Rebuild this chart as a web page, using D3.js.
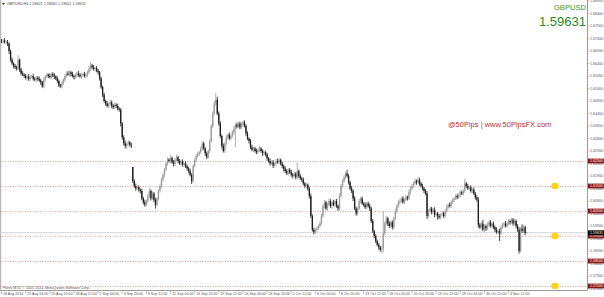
<!DOCTYPE html>
<html>
<head>
<meta charset="utf-8">
<script src="https://cdn.jsdelivr.net/npm/d3@7"></script>
<style>
body { margin: 0; background: #fff; }
svg { display: block; font-family: "Liberation Sans", Arial, sans-serif; }
</style>
</head>
<body>
<script>
const width = 604;
const height = 297;
const plotRight = 587;
const plotBottom = 290;

// GBPUSD H4 from 18 Aug 2014 12:00, closes in pips above 1.5000
const closes = [
  1728,1732,1725,1727,1720,1690,1655,1640,1630,1625,
  1620,1655,1615,1600,1595,1590,1582,1588,1578,1585,
  1590,1580,1575,1583,1578,1572,1565,1548,1575,1588,
  1595,1590,1585,1598,1592,1588,1580,1570,1552,1548,
  1560,1575,1590,1600,1595,1605,1598,1590,1585,1592,
  1600,1595,1588,1593,1598,1590,1595,1605,1620,1632,
  1625,1618,1622,1612,1605,1580,1545,1515,1490,1480,
  1470,1478,1485,1472,1465,1475,1470,1460,1455,1400,
  1345,1320,1310,1318,1325,1315,1312,1170,1150,1140,
  1145,1135,1130,1100,1085,1075,1090,1110,1130,1100,
  1120,1095,1075,1100,1130,1150,1175,1195,1215,1240,
  1255,1250,1262,1245,1238,1255,1265,1250,1240,1248,
  1235,1240,1228,1220,1210,1195,1170,1230,1255,1270,
  1278,1285,1300,1320,1300,1280,1265,1290,1330,1390,
  1440,1480,1495,1440,1400,1350,1310,1290,1320,1345,
  1355,1340,1350,1365,1380,1395,1388,1400,1385,1395,
  1405,1390,1360,1340,1330,1305,1295,1300,1290,1285,
  1295,1300,1290,1280,1285,1275,1260,1250,1240,1245,
  1232,1240,1250,1245,1255,1240,1230,1220,1210,1200,
  1215,1205,1195,1190,1200,1185,1210,1190,1180,1175,
  1160,1150,1155,1140,1110,1030,975,965,975,980,
  990,1000,1030,1070,1085,1060,1075,1090,1070,1085,
  1075,1090,1070,1060,1110,1150,1170,1185,1200,1190,
  1165,1140,1130,1100,1060,1040,1060,1090,1100,1080,
  1075,1065,1080,1070,1060,1010,970,950,930,915,
  905,895,900,960,1000,1020,1000,990,1005,985,
  1020,1050,1070,1085,1090,1100,1085,1095,1105,1100,
  1125,1140,1150,1160,1170,1165,1175,1160,1150,1140,
  1130,1120,1030,1050,1060,1045,1055,1035,1040,1030,
  1025,1035,1040,1030,1050,1065,1075,1070,1085,1095,
  1100,1110,1105,1115,1125,1120,1130,1160,1150,1140,
  1145,1130,1135,1120,1105,1095,995,985,1000,975,
  990,980,995,1005,990,1000,985,975,965,970,
  960,985,995,1000,990,1000,1010,1005,1015,1000,
  1010,990,975,890,980,970,985,962.1,963.1
];

// wick lengths in pips above / below the body
const wickUp = [
  8,6,10,5,7,4,6,9,5,8, 6,19,5,7,9,6,8,5,10,7, 6,9,5,8,6,10,7,5,9,6,
  8,5,10,6,7,9,5,8,6,7, 9,6,8,5,10,7,6,9,5,8, 7,10,6,8,5,9,7,6,10,13,
  7,9,5,8,6,5,7,6,8,5, 9,6,10,7,5,8,6,9,5,7, 6,8,12,7,9,5,8,0,7,10,
  6,8,5,9,7,10,6,8,12,7, 9,6,8,5,7,6,9,5,8,6, 10,7,12,6,9,8,10,6,8,7,
  9,5,8,6,7,9,6,8,5,7, 9,6,8,10,7,5,8,6,9,7, 8,10,27,12,8,9,6,10,7,8,
  6,9,7,8,10,6,9,7,8,10, 6,8,7,9,5,8,10,6,7,9, 8,10,6,7,9,5,8,6,10,7,
  9,6,8,10,7,5,8,6,9,7, 8,6,10,7,9,5,36,6,8,7, 9,6,8,5,7,10,6,8,7,9,
  6,8,10,7,9,6,8,10,7,6, 9,7,8,6,10,8,7,9,6,15, 8,6,10,7,9,8,6,10,7,8,
  6,9,7,8,10,6,8,5,7,6, 8,6,10,90,8,10,7,9,6,8, 7,9,6,8,10,7,9,6,8,7,
  9,6,8,7,10,6,10,8,7,9, 6,8,10,7,9,6,8,10,7,6, 8,6,9,7,8,10,6,9,7,8,
  6,9,7,8,10,6,8,20,7,9, 6,8,7,10,6,8,10,7,9,15, 8,6,10,7,9,6,8,7,10,6,
  9,7,8,6,10,7,9,6,8,7, 9,6,8,10,7,17,9,6,3
];
const wickDn = [
  6,9,5,8,10,12,8,6,9,7, 8,6,9,7,5,8,6,10,7,9, 5,8,6,9,7,6,10,5,7,9,
  6,8,5,9,7,10,6,8,7,5, 8,6,9,7,5,8,10,6,9,7, 6,8,5,9,7,6,10,8,7,9,
  8,6,9,7,10,8,6,9,7,8, 6,9,7,10,8,6,9,7,8,12, 10,7,9,12,6,8,10,8,7,9,
  6,8,10,7,9,8,6,9,7,8, 6,9,15,7,8,6,9,7,10,6, 8,7,9,6,10,8,7,9,6,8,
  7,9,6,8,10,7,12,8,6,9, 7,8,6,9,7,10,8,6,9,7, 8,6,10,7,9,8,10,6,8,7,
  9,6,8,7,10,74,8,6,9,7, 8,6,9,7,10,8,6,9,7,8, 6,9,7,10,8,6,9,7,8,6,
  10,7,9,6,8,7,10,12,8,6, 9,7,8,10,6,9,7,8,6,9, 7,8,6,9,10,8,7,9,6,8,
  7,9,6,8,10,7,9,6,8,12, 6,9,7,10,8,6,9,7,8,6, 9,7,8,10,6,9,8,7,10,6,
  8,7,9,6,10,8,7,9,8,6, 10,8,13,15,9,7,10,8,6,9, 8,6,9,7,10,8,6,9,7,8,
  6,9,7,8,6,10,7,9,6,8, 9,7,12,8,6,9,7,10,8,15, 7,9,6,8,10,7,9,6,8,7,
  9,6,8,7,10,6,8,7,9,6, 8,7,10,6,9,8,12,7,9,6, 8,10,7,9,6,8,7,9,6,6,
  30,8,7,9,6,8,7,10,6,9, 7,9,8,10,6,8,7,9,0
];
const firstOpen = 1730;
const gapOpens = { 87: 1226 }; // Monday 8 Sep opens below Friday close

const timeLabels = [
  '18 Aug 2014', '21 Aug 04:00', '25 Aug 20:00', '28 Aug 12:00', '2 Sep 04:00',
  '4 Sep 20:00', '9 Sep 12:00', '12 Sep 04:00', '16 Sep 20:00', '19 Sep 12:00',
  '24 Sep 04:00', '26 Sep 20:00', '1 Oct 12:00', '6 Oct 04:00', '8 Oct 20:00',
  '13 Oct 12:00', '16 Oct 04:00', '20 Oct 20:00', '23 Oct 12:00', '28 Oct 04:00',
  '30 Oct 20:00', '4 Nov 12:00'
];
const barsPerLabel = 16;

const priceTicks = [
  1.6890, 1.6840, 1.6790, 1.6740, 1.6690, 1.6640, 1.6590, 1.6540,
  1.6490, 1.6440, 1.6390, 1.6340, 1.6290, 1.6240, 1.6190, 1.6140,
  1.6090, 1.6040, 1.5990, 1.5940, 1.5890, 1.5840, 1.5790, 1.5740
];
const levels = [1.6250, 1.6150, 1.6050, 1.5950, 1.5850, 1.5750];
const markedLevels = [1.6150, 1.5950, 1.5750];
const lastPrice = 1.59631;
const header = 'GBPUSD,H4  1.59621 1.59661 1.59621 1.59631';

const candles = closes.map((c, i) => {
  const o = i === 0 ? firstOpen : (gapOpens[i] !== undefined ? gapOpens[i] : closes[i - 1]);
  return {
    i: i,
    open: 1.5 + o / 10000,
    close: 1.5 + c / 10000,
    high: 1.5 + (Math.max(o, c) + wickUp[i]) / 10000,
    low: 1.5 + (Math.min(o, c) - wickDn[i]) / 10000
  };
});

const x = d3.scaleLinear().domain([-1, 388]).range([0, plotRight]);
const y = d3.scaleLinear().domain([1.5734, 1.6894]).range([plotBottom, 0]);

const svg = d3.select('body').append('svg')
  .attr('width', width)
  .attr('height', height);

svg.append('rect')
  .attr('width', width)
  .attr('height', height)
  .attr('fill', '#fff');

// left frame edge
svg.append('line')
  .attr('x1', 0.5).attr('x2', 0.5)
  .attr('y1', 0).attr('y2', plotBottom)
  .attr('stroke', '#b8b8b8')
  .attr('stroke-width', 1.5);

// dotted levels
svg.selectAll('.level')
  .data(levels)
  .enter()
  .append('line')
  .attr('class', 'level')
  .attr('x1', 0).attr('x2', plotRight)
  .attr('y1', d => Math.round(y(d)) + 0.5)
  .attr('y2', d => Math.round(y(d)) + 0.5)
  .attr('stroke', '#d27474')
  .attr('stroke-width', 0.7)
  .attr('stroke-dasharray', '1,1.5');

// bid line
svg.append('line')
  .attr('x1', 0).attr('x2', plotRight)
  .attr('y1', y(lastPrice)).attr('y2', y(lastPrice))
  .attr('stroke', '#d4d4d4')
  .attr('stroke-width', 1);

const g = svg.append('g');
const colour = d => d.close >= d.open ? '#9a9a9a' : '#1c1c1c';

g.selectAll('.wick')
  .data(candles)
  .enter()
  .append('line')
  .attr('class', 'wick')
  .attr('x1', d => x(d.i)).attr('x2', d => x(d.i))
  .attr('y1', d => y(d.high)).attr('y2', d => y(d.low))
  .attr('stroke', colour)
  .attr('stroke-width', 0.8);

g.selectAll('.body')
  .data(candles)
  .enter()
  .append('rect')
  .attr('class', 'body')
  .attr('x', d => x(d.i) - 0.65)
  .attr('width', 1.3)
  .attr('y', d => y(Math.max(d.open, d.close)))
  .attr('height', d => Math.max(0.6, Math.abs(y(d.open) - y(d.close))))
  .attr('fill', colour);

// yellow markers
svg.selectAll('.dot')
  .data(markedLevels)
  .enter()
  .append('ellipse')
  .attr('cx', 555)
  .attr('cy', d => y(d))
  .attr('rx', 3.8)
  .attr('ry', 3.2)
  .attr('fill', '#ffd21a');

// price axis
svg.append('line')
  .attr('x1', plotRight + 0.5).attr('x2', plotRight + 0.5)
  .attr('y1', 0).attr('y2', plotBottom)
  .attr('stroke', '#9a9a9a');

svg.selectAll('.ptick')
  .data(priceTicks)
  .enter()
  .append('line')
  .attr('x1', plotRight).attr('x2', plotRight + 2.5)
  .attr('y1', d => y(d)).attr('y2', d => y(d))
  .attr('stroke', '#9a9a9a')
  .attr('stroke-width', 0.6);

svg.selectAll('.plabel')
  .data(priceTicks)
  .enter()
  .append('text')
  .attr('x', plotRight + 3)
  .attr('y', d => y(d) + 1.3)
  .attr('font-size', 3.6)
  .attr('fill', '#555')
  .text(d => d.toFixed(5));

const boxes = svg.selectAll('.lbox')
  .data(levels.map(v => ({ v: v, bg: '#8e1515' })).concat([{ v: lastPrice, bg: '#000' }]))
  .enter()
  .append('g')
  .attr('transform', d => `translate(${plotRight + 1},${y(d.v)})`);

boxes.append('rect')
  .attr('x', 0).attr('y', -2.4)
  .attr('width', width - plotRight - 1)
  .attr('height', 4.8)
  .attr('fill', d => d.bg);

boxes.append('text')
  .attr('x', 2)
  .attr('y', 1.3)
  .attr('font-size', 3.6)
  .attr('fill', '#fff')
  .text(d => d.v.toFixed(5));

// time axis
svg.append('line')
  .attr('x1', 0).attr('x2', plotRight + 0.5)
  .attr('y1', plotBottom + 0.5).attr('y2', plotBottom + 0.5)
  .attr('stroke', '#9a9a9a');

const tlabels = svg.selectAll('.tlabel')
  .data(timeLabels)
  .enter()
  .append('g')
  .attr('transform', (d, k) => `translate(${x(k * barsPerLabel)},${plotBottom})`);

tlabels.append('line')
  .attr('y1', 0).attr('y2', 4)
  .attr('stroke', '#9a9a9a')
  .attr('stroke-width', 0.6);

tlabels.append('text')
  .attr('x', 1.5)
  .attr('y', 5.2)
  .attr('font-size', 3.6)
  .attr('fill', '#555')
  .text(d => d);

// captions
svg.append('path')
  .attr('d', 'M2,3 L5,3 L3.5,5 Z')
  .attr('fill', '#333');

svg.append('text')
  .attr('x', 7).attr('y', 5.3)
  .attr('font-size', 3.7)
  .attr('fill', '#444')
  .text(header);

svg.append('text')
  .attr('x', 3).attr('y', 288.5)
  .attr('font-size', 3.6)
  .attr('fill', '#555')
  .text('Forex MT4, © 2001-2014, MetaQuotes Software Corp.');

svg.append('text')
  .attr('x', 586).attr('y', 10)
  .attr('text-anchor', 'end')
  .attr('font-size', 7.6)
  .attr('fill', '#339933')
  .text('GBPUSD');

svg.append('text')
  .attr('x', 586).attr('y', 25.5)
  .attr('text-anchor', 'end')
  .attr('font-size', 13)
  .attr('fill', '#2a8a2a')
  .text(lastPrice.toFixed(5));

svg.append('text')
  .attr('x', 448).attr('y', 126.7)
  .attr('font-size', 7.5)
  .attr('fill', '#b83232')
  .text('@50Pips | www.50PipsFX.com');
</script>
</body>
</html>
